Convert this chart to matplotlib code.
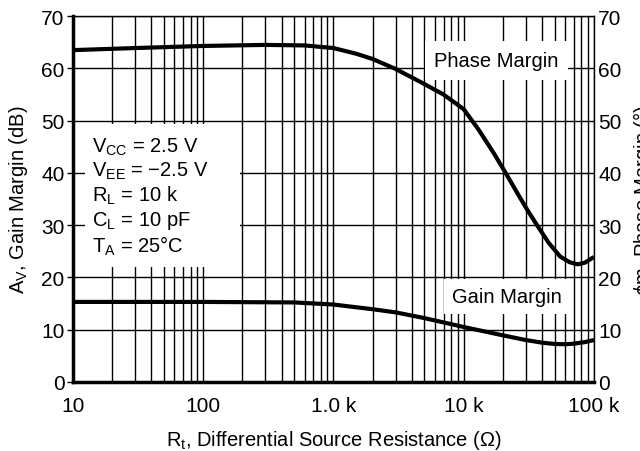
import numpy as np
import matplotlib
matplotlib.use("Agg")
import matplotlib.pyplot as plt
from matplotlib.patches import Rectangle
from matplotlib.ticker import FixedLocator, FixedFormatter, NullFormatter

plt.rcParams['font.family'] = ['Liberation Sans', 'DejaVu Sans']
plt.rcParams['mathtext.fontset'] = 'custom'
plt.rcParams['mathtext.rm'] = 'Liberation Sans'
plt.rcParams['mathtext.it'] = 'Liberation Sans:italic'

# values
r_phase = [10, 30, 100, 300, 600, 1000, 1500, 2000, 3000, 5000, 7000, 10000,
           13000, 17000, 21000, 26000, 31000, 37000, 45000, 55000, 65000, 75000, 85000, 100000]
phase = [63.5, 63.9, 64.3, 64.5, 64.4, 63.9, 62.8, 61.8, 59.9, 57.0, 55.0, 52.2,
         48.3, 43.8, 40.0, 36.0, 32.8, 29.8, 26.6, 24.0, 22.9, 22.5, 22.8, 23.9]

r_gain = [10, 100, 500, 1000, 2000, 3000, 5000, 10000, 20000, 30000, 40000,
          50000, 60000, 70000, 85000, 100000]
gain = [15.3, 15.3, 15.2, 14.8, 13.9, 13.3, 12.2, 10.5, 8.9, 8.0, 7.5,
        7.25, 7.2, 7.3, 7.6, 8.0]

xticks = [10, 100, 1000, 10000, 100000]
xlabels = ['10', '100', '1.0 k', '10 k', '100 k']
yticks = [0, 10, 20, 30, 40, 50, 60, 70]

fig = plt.figure(figsize=(6.4, 4.52), dpi=100)
ax = fig.add_axes([0.114, 0.153, 0.814, 0.809])

ax.plot(r_phase, phase, color='black', lw=3.0, zorder=5, solid_capstyle='butt')
ax.plot(r_gain, gain, color='black', lw=3.0, zorder=5, solid_capstyle='butt')

ax.set_xscale('log')
ax.set_xlim(10, 100000)
ax.set_ylim(0, 70)
ax.xaxis.set_major_locator(FixedLocator(xticks))
ax.xaxis.set_major_formatter(FixedFormatter(xlabels))
minors = [m * 10 ** e for e in range(1, 5) for m in range(2, 10)]
ax.xaxis.set_minor_locator(FixedLocator(minors))
ax.xaxis.set_minor_formatter(NullFormatter())
ax.set_yticks(yticks)

ax.grid(True, which='both', axis='x', color='black', lw=1.0)
ax.grid(True, which='major', axis='y', color='black', lw=1.0)
ax.set_axisbelow(True)

for s in ['left', 'bottom']:
    ax.spines[s].set_linewidth(2.5)
for s in ['top', 'right']:
    ax.spines[s].set_linewidth(1.0)

ax.tick_params(which='both', length=0, labelsize=15)
ax.tick_params(axis='x', pad=10)
ax.tick_params(axis='y', length=4, width=1, direction='out', pad=2)

ax2 = ax.twinx()
ax2.set_ylim(0, 70)
ax2.set_yticks(yticks)
ax2.tick_params(length=0, labelsize=15, pad=3)
for s in ax2.spines.values():
    s.set_visible(False)

ax.set_xlabel(r'R$_{\rm t}$, Differential Source Resistance ($\Omega$)', fontsize=14.5)
ax.xaxis.set_label_coords(0.5, -0.125)
ax.set_ylabel(r'A$_{\rm V}$, Gain Margin (dB)', fontsize=14.5)
ax.yaxis.set_label_coords(-0.082, 0.5)
ax2.set_ylabel(r'$\phi$m, Phase Margin ($\degree$)', fontsize=14.5)
ax2.yaxis.set_label_coords(1.072, 0.5)

# white box behind the test conditions
ax.add_patch(Rectangle((0.023, 0.314), 0.297, 0.391, transform=ax.transAxes,
                       facecolor='white', edgecolor='none', zorder=3))
cond = (r'V$_{\rm CC}$ = 2.5 V' + '\n' + r'V$_{\rm EE}$ = $-$2.5 V' + '\n' +
        r'R$_{\rm L}$ = 10 k' + '\n' + r'C$_{\rm L}$ = 10 pF' + '\n' +
        r'T$_{\rm A}$ = 25$\degree$C')
ax.text(0.036, 0.674, cond, transform=ax.transAxes, fontsize=14.5, va='top', ha='left',
        linespacing=1.17, zorder=4)

ax.text(0.813, 0.879, 'Phase Margin', transform=ax.transAxes, fontsize=14.5,
        ha='center', va='center', zorder=4,
        bbox=dict(facecolor='white', edgecolor='none', pad=7))
ax.text(0.833, 0.233, 'Gain Margin', transform=ax.transAxes, fontsize=14.5,
        ha='center', va='center', zorder=4,
        bbox=dict(facecolor='white', edgecolor='none', pad=6))

fig.savefig('out.png', dpi=100)
